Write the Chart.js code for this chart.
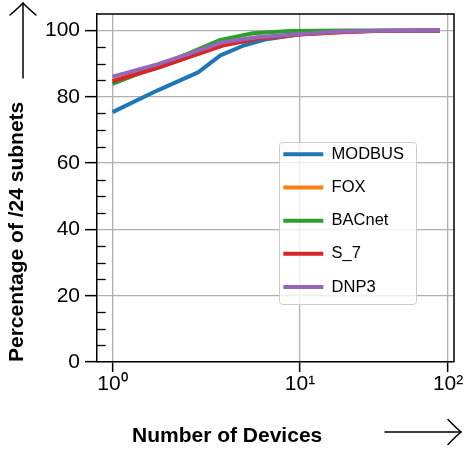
<!DOCTYPE html>
<html><head><meta charset="utf-8">
<script src="https://cdn.jsdelivr.net/npm/chart.js@4"></script>
<style>html,body{margin:0;padding:0;background:#fff}#wrap{width:464px;height:453px;position:relative}</style>
</head><body><div id="wrap"><canvas id="c"></canvas></div>
<script>
// ---- data ----
const seriesNames = ['MODBUS', 'FOX', 'BACnet', 'S_7', 'DNP3'];
const seriesColors = ['#1f77b4', '#ff7f0e', '#2ca02c', '#d62728', '#9467bd'];
const xTickValues = [1, 10, 100];
const xTickLabels = ['10\u2070', '10\u00b9', '10\u00b2'];
const yTickValues = [0, 5, 10, 15, 20, 25, 30, 35, 40, 45, 50, 55, 60, 65, 70, 75, 80, 85, 90, 95, 100];
const yMajorStep = 20;
const modbusX = [1, 1.5, 2.4, 3.2, 4.4, 6.1, 10, 19, 34, 88];
const modbusY = [75.4, 81.9, 87.4, 92.5, 95.5, 97.4, 98.9, 99.7, 99.9, 99.9];
const foxX = [1, 1.5, 2.2, 3.3, 5.3, 10, 19, 30, 88];
const foxY = [84.8, 88.8, 92.3, 95.6, 97.6, 98.9, 99.6, 99.9, 100];
const bacnetX = [1, 1.5, 2.2, 3.2, 5, 8.6, 20, 88];
const bacnetY = [83.9, 89.2, 93.4, 97.2, 99.2, 99.9, 100, 100];
const s7X = [1, 1.5, 2.2, 3.3, 5.3, 10, 19, 30, 88];
const s7Y = [84.7, 88.7, 92.2, 95.5, 97.5, 98.8, 99.5, 99.9, 100];
const dnp3X = [1, 1.5, 2.2, 3.3, 5.3, 10, 19, 40, 88];
const dnp3Y = [86.1, 89.8, 93.2, 96.5, 98.0, 99.0, 99.7, 100, 100];
const seriesX = [modbusX, foxX, bacnetX, s7X, dnp3X];
const seriesY = [modbusY, foxY, bacnetY, s7Y, dnp3Y];

const FONT = "'Liberation Sans', Arial, Helvetica, sans-serif";
const SHIFT = 0.515;

// custom shifted-log axis matching the reference's tick spacing
class ShiftLogScale extends Chart.Scale {
  static id = 'shiftlog';
  static defaults = {};
  determineDataLimits() { this.min = this.options.min; this.max = this.options.max; }
  buildTicks() { return xTickValues.map(v => ({ value: v })); }
  getLabelForValue(v) { return String(v); }
  configure() {
    super.configure();
    this._s = Math.log10(this.min - SHIFT);
    this._e = Math.log10(this.max - SHIFT);
  }
  getPixelForValue(v) {
    return this.getPixelForDecimal((Math.log10(v - SHIFT) - this._s) / (this._e - this._s));
  }
  getValueForPixel(p) {
    return SHIFT + Math.pow(10, this._s + this.getDecimalForPixel(p) * (this._e - this._s));
  }
}
Chart.register(ShiftLogScale);

function drawArrow(ctx, x1, y1, x2, y2, headLen, headHalf) {
  const ang = Math.atan2(y2 - y1, x2 - x1);
  ctx.save();
  ctx.strokeStyle = '#000';
  ctx.lineWidth = 1.5;
  ctx.lineCap = 'round';
  ctx.beginPath();
  ctx.moveTo(x1, y1); ctx.lineTo(x2, y2);
  ctx.stroke();
  ctx.translate(x2, y2); ctx.rotate(ang);
  ctx.beginPath();
  ctx.moveTo(-headLen, -headHalf);
  ctx.quadraticCurveTo(-headLen * 0.35, -headHalf * 0.3, 0, 0);
  ctx.quadraticCurveTo(-headLen * 0.35, headHalf * 0.3, -headLen, headHalf);
  ctx.stroke();
  ctx.restore();
}

const decorPlugin = {
  id: 'decor',
  afterLayout(chart) {
    const lg = chart.legend, ca = chart.chartArea;
    if (!lg) return;
    lg.left = ca.left + 169.6; lg.top = ca.top + 115.3;
    lg.right = chart.width; lg.bottom = chart.height;
    lg.width = lg.right - lg.left; lg.height = lg.bottom - lg.top;
    if (!lg._patched) {
      const orig = lg.draw.bind(lg);
      lg.draw = function (area) {
        const ctx = chart.ctx, c = chart.chartArea;
        ctx.save();
        const x = c.left + 182, y = c.top + 128, w = 137, h = 162, r = 3;
        ctx.beginPath();
        ctx.roundRect(x + 0.5, y + 0.5, w, h, r);
        ctx.fillStyle = 'rgba(255,255,255,0.8)';
        ctx.fill();
        ctx.strokeStyle = '#cccccc';
        ctx.lineWidth = 1;
        ctx.stroke();
        ctx.restore();
        orig(area);
      };
      lg._patched = true;
    }
  },
  afterDraw(chart) {
    const ctx = chart.ctx, ca = chart.chartArea, ys = chart.scales.y;
    ctx.save();
    // inward minor ticks
    ctx.strokeStyle = '#000'; ctx.lineWidth = 1.3;
    yTickValues.forEach(v => {
      if (v % yMajorStep === 0) return;
      const py = Math.round(ys.getPixelForValue(v)) + 0.5;
      ctx.beginPath(); ctx.moveTo(ca.left, py); ctx.lineTo(ca.left + 8.7, py); ctx.stroke();
    });
    // top and right spines
    ctx.lineWidth = 1.5;
    ctx.beginPath();
    ctx.moveTo(ca.left, ca.top); ctx.lineTo(ca.right, ca.top); ctx.lineTo(ca.right, ca.bottom);
    ctx.stroke();
    ctx.restore();
    // axis arrows
    drawArrow(ctx, 23, 78, 23, 3, 12, 13);
    drawArrow(ctx, 385, 432, 461, 432, 13, 12.5);
  }
};

const datasets = seriesNames.map((name, i) => ({
  label: name,
  data: seriesX[i].map((x, j) => ({ x: x, y: seriesY[i][j] })),
  borderColor: seriesColors[i],
  backgroundColor: seriesColors[i],
  borderWidth: 4,
  pointRadius: 0,
  tension: 0,
  fill: false,
  order: seriesNames.length - i,
  borderCapStyle: 'butt',
  borderJoinStyle: 'round'
}));

new Chart(document.getElementById('c'), {
  type: 'line',
  data: { datasets },
  options: {
    responsive: true,
    maintainAspectRatio: false,
    animation: false,
    events: [],
    layout: { padding: { top: 14, right: 10, left: 0, bottom: 0 } },
    plugins: {
      tooltip: { enabled: false },
      legend: {
        position: 'chartArea',
        align: 'start',
        labels: {
          usePointStyle: true,
          pointStyle: 'line',
          pointStyleWidth: 40,
          padding: 16.7,
          color: '#000',
          font: { family: FONT, size: 16.5 },
          generateLabels: (chart) => chart.data.datasets.map((ds, i) => ({
            text: ds.label, fillStyle: ds.borderColor, strokeStyle: ds.borderColor,
            lineWidth: 4, lineCap: 'butt', pointStyle: 'line', hidden: false,
            datasetIndex: i, fontColor: '#000'
          }))
        }
      }
    },
    scales: {
      x: {
        type: 'shiftlog',
        min: 0.894,
        max: 109.8,
        ticks: {
          callback: (v, i) => xTickLabels[i],
          font: { family: FONT, size: 21 },
          color: '#000', padding: 0, maxRotation: 0, autoSkip: false
        },
        grid: { color: '#b0b0b0', lineWidth: 1.3, tickLength: 10, tickColor: '#000', tickWidth: 1.5 },
        border: { color: '#000', width: 1.5 },
        title: {
          display: true, align: 'start',
          text: '\u00a0\u00a0\u00a0\u00a0\u00a0\u00a0Number of Devices',
          color: '#000', font: { family: FONT, size: 21, weight: 'bold' },
          padding: { top: 0, bottom: 4.4 }
        },
        afterFit: (s) => { s.height = 91; s.paddingLeft = 0; s.paddingRight = 0; }
      },
      y: {
        type: 'linear',
        min: 0,
        max: 105,
        afterBuildTicks: (s) => { s.ticks = yTickValues.map(v => ({ value: v })); },
        ticks: {
          callback: (v) => (v % yMajorStep === 0 ? String(v) : ''),
          font: { family: FONT, size: 21 },
          color: '#000', padding: 5, autoSkip: false
        },
        grid: {
          color: (c) => (c.tick && c.tick.value % yMajorStep === 0) ? '#b0b0b0' : 'rgba(0,0,0,0)',
          tickColor: (c) => (c.tick && c.tick.value % yMajorStep === 0) ? '#000' : 'rgba(0,0,0,0)',
          lineWidth: 1.3, tickLength: 12, tickWidth: 1.5
        },
        border: { color: '#000', width: 1.5 },
        title: {
          display: true, align: 'start',
          text: 'Percentage of /24 subnets',
          color: '#000', font: { family: FONT, size: 21, weight: 'bold' },
          padding: { top: 5, bottom: 0 }
        },
        afterFit: (s) => { s.width = 97; s.paddingTop = 0; s.paddingBottom = 0; }
      }
    }
  },
  plugins: [decorPlugin]
});
</script>
</body></html>
